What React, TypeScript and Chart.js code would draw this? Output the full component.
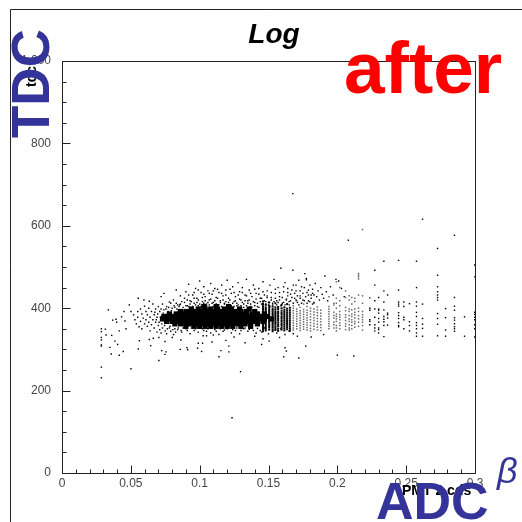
import React, { useEffect, useRef } from "react";
import { Chart, registerables } from "chart.js";

Chart.register(...registerables);

type P = [number, number];

const titleText = "Log";
const xAxisLabel = "PMT 2 cds";
const yAxisLabel = "tdc";
const xTicksMinor = [0.01, 0.02, 0.03, 0.04, 0.06, 0.07, 0.08, 0.09, 0.11, 0.12, 0.13, 0.14, 0.16, 0.17, 0.18, 0.19, 0.21, 0.22, 0.23, 0.24, 0.26, 0.27, 0.28, 0.29];
const yTicksMinor = [50, 100, 150, 250, 300, 350, 450, 500, 550, 650, 700, 750, 850, 900, 950];

const coreRows: [number, number[]][] = [
  [404, [0.103, 0.112, 0.121]],
  [398, [0.094, 0.099, 0.104, 0.108, 0.113, 0.118, 0.123, 0.129, 0.136]],
  [392, [0.086, 0.09, 0.093, 0.096, 0.099, 0.102, 0.105, 0.108, 0.111, 0.114, 0.117, 0.12, 0.123, 0.126, 0.13, 0.134, 0.14]],
  [386, [0.078, 0.083, 0.086, 0.089, 0.092, 0.095, 0.098, 0.101, 0.104, 0.107, 0.11, 0.113, 0.116, 0.119, 0.122, 0.125, 0.128, 0.131, 0.134, 0.138, 0.142, 0.147]],
  [380, [0.074, 0.077, 0.08, 0.083, 0.086, 0.089, 0.092, 0.095, 0.098, 0.101, 0.104, 0.107, 0.11, 0.113, 0.116, 0.119, 0.122, 0.125, 0.128, 0.131, 0.134, 0.137, 0.14, 0.144, 0.149]],
  [374, [0.073, 0.077, 0.08, 0.083, 0.086, 0.089, 0.092, 0.095, 0.098, 0.101, 0.104, 0.107, 0.11, 0.113, 0.116, 0.119, 0.122, 0.125, 0.128, 0.131, 0.134, 0.137, 0.14, 0.143, 0.147, 0.152]],
  [368, [0.076, 0.08, 0.084, 0.087, 0.09, 0.093, 0.096, 0.099, 0.102, 0.105, 0.108, 0.111, 0.114, 0.117, 0.12, 0.123, 0.126, 0.129, 0.132, 0.135, 0.138, 0.141, 0.146]],
  [362, [0.082, 0.086, 0.09, 0.093, 0.096, 0.099, 0.102, 0.105, 0.108, 0.111, 0.114, 0.117, 0.12, 0.123, 0.126, 0.129, 0.133, 0.137, 0.142]],
  [356, [0.09, 0.096, 0.1, 0.104, 0.108, 0.112, 0.116, 0.12, 0.124, 0.13, 0.137]],
];

const leftOutliers: P[] = [
  [0.0286, 350], [0.0286, 343], [0.0286, 329], [0.0286, 323], [0.0286, 311], [0.0286, 308], [0.0286, 257], [0.0286, 231],
  [0.0315, 349], [0.032, 335], [0.0361, 334], [0.0348, 305], [0.0385, 320], [0.0404, 312], [0.0358, 289], [0.0416, 286],
  [0.0445, 295], [0.0501, 253], [0.0416, 345], [0.0465, 350], [0.0368, 371], [0.0392, 373], [0.0397, 366], [0.0433, 379],
  [0.045, 392], [0.0457, 369], [0.0489, 408], [0.0501, 392], [0.0337, 396], [0.0554, 424], [0.0595, 420], [0.0634, 417],
  [0.0562, 321], [0.0554, 301], [0.0644, 309], [0.0634, 324], [0.0663, 327], [0.0704, 329], [0.0724, 297], [0.0755, 294],
  [0.0748, 288], [0.0704, 273], [0.0748, 319], [0.0801, 329], [0.0864, 323], [0.0859, 300], [0.0908, 304], [0.0913, 299],
  [0.099, 315], [0.0985, 303], [0.1026, 333], [0.105, 333], [0.1021, 315], [0.1014, 295], [0.1099, 335], [0.1154, 297],
  [0.114, 282], [0.1212, 308], [0.1212, 294], [0.1297, 246], [0.1235, 134],
];

const leftCloud: P[] = [
  [0.052, 384], [0.053, 372], [0.054, 362], [0.055, 392], [0.055, 378], [0.056, 355], [0.057, 398], [0.057, 368], [0.058, 386], [0.058, 350],
  [0.059, 376], [0.06, 405], [0.06, 362], [0.061, 392], [0.061, 372], [0.062, 384], [0.062, 356], [0.063, 400], [0.063, 366], [0.064, 378],
  [0.064, 345], [0.065, 392], [0.065, 360], [0.066, 410], [0.066, 372], [0.067, 384], [0.067, 352], [0.068, 398], [0.068, 366], [0.069, 378],
  [0.069, 342], [0.07, 404], [0.07, 358], [0.071, 392], [0.071, 348], [0.072, 398], [0.072, 340], [0.073, 410], [0.073, 352], [0.074, 396],
  [0.075, 345], [0.076, 404], [0.076, 338], [0.077, 392], [0.078, 352], [0.079, 412], [0.079, 344], [0.08, 400], [0.081, 336], [0.082, 350],
  [0.0675, 390], [0.0685, 372], [0.0695, 386], [0.0705, 366], [0.0715, 378], [0.0725, 362], [0.0735, 388], [0.0745, 358], [0.0755, 398], [0.0765, 350],
  [0.0775, 402], [0.0785, 356], [0.0795, 394], [0.0805, 348], [0.0815, 406], [0.0825, 342], [0.0835, 398], [0.0845, 352], [0.0855, 408], [0.0865, 346],
];

const upperHalo: P[] = [
  [0.072, 428], [0.074, 436], [0.078, 415], [0.081, 420], [0.083, 444], [0.084, 408], [0.086, 430], [0.087, 416], [0.089, 424], [0.09, 440],
  [0.091, 406], [0.092, 458], [0.093, 418], [0.095, 432], [0.096, 412], [0.097, 448], [0.098, 424], [0.099, 406], [0.1, 466], [0.101, 438],
  [0.102, 416], [0.103, 452], [0.104, 428], [0.105, 410], [0.106, 442], [0.107, 420], [0.108, 460], [0.109, 434], [0.11, 414], [0.111, 448],
  [0.112, 426], [0.113, 408], [0.114, 438], [0.115, 418], [0.116, 456], [0.117, 430], [0.118, 412], [0.119, 444], [0.12, 468], [0.121, 424],
  [0.122, 408], [0.123, 436], [0.124, 452], [0.125, 416], [0.126, 428], [0.127, 406], [0.128, 462], [0.129, 440], [0.13, 420], [0.131, 450],
  [0.132, 410], [0.133, 432], [0.134, 470], [0.135, 418], [0.136, 444], [0.137, 404], [0.138, 428], [0.139, 456], [0.14, 414], [0.141, 436],
  [0.142, 404], [0.143, 448], [0.144, 424], [0.145, 410], [0.146, 464], [0.147, 432], [0.148, 416], [0.149, 442], [0.15, 408], [0.151, 456],
  [0.152, 426], [0.153, 412], [0.154, 470], [0.155, 436], [0.156, 418], [0.157, 450], [0.158, 428], [0.159, 497], [0.16, 412], [0.161, 440],
  [0.162, 462], [0.163, 422], [0.164, 448], [0.165, 416], [0.166, 434], [0.1677, 492], [0.1677, 678], [0.168, 456], [0.169, 424], [0.17, 442],
  [0.171, 414], [0.172, 468], [0.173, 430], [0.174, 452], [0.175, 420], [0.1764, 484], [0.1775, 472], [0.1775, 469], [0.178, 438], [0.179, 418],
  [0.18, 456], [0.181, 432], [0.182, 446], [0.183, 414], [0.184, 460], [0.185, 428], [0.186, 442], [0.187, 420], [0.188, 450], [0.189, 434],
  [0.19, 424], [0.191, 478], [0.192, 440], [0.193, 418], [0.195, 452], [0.197, 432], [0.199, 470], [0.201, 466], [0.203, 448], [0.205, 428],
];

const upperDense: P[] = [
  [0.082, 402], [0.083, 412], [0.085, 404], [0.086, 410], [0.088, 402], [0.089, 414], [0.09, 406], [0.091, 420], [0.092, 404], [0.093, 410],
  [0.094, 416], [0.095, 404], [0.096, 424], [0.097, 408], [0.098, 414], [0.099, 420], [0.1, 410], [0.101, 404], [0.102, 426], [0.103, 412],
  [0.104, 418], [0.105, 406], [0.106, 414], [0.107, 408], [0.108, 422], [0.109, 412], [0.11, 404], [0.111, 418], [0.112, 410], [0.113, 424],
  [0.114, 408], [0.115, 414], [0.116, 404], [0.117, 420], [0.118, 410], [0.119, 416], [0.12, 408], [0.121, 414], [0.122, 420], [0.123, 406],
  [0.124, 412], [0.125, 404], [0.126, 418], [0.127, 412], [0.128, 408], [0.129, 422], [0.13, 406], [0.131, 414], [0.132, 402], [0.133, 418],
  [0.134, 406], [0.135, 412], [0.136, 420], [0.137, 410], [0.138, 402], [0.139, 416], [0.14, 406], [0.141, 422], [0.142, 412], [0.143, 402],
  [0.144, 416], [0.145, 424], [0.146, 406], [0.147, 418], [0.148, 410], [0.149, 426], [0.15, 414], [0.151, 404], [0.152, 420], [0.153, 408],
  [0.154, 416], [0.155, 424], [0.156, 408], [0.157, 414], [0.158, 420], [0.159, 406], [0.16, 426], [0.161, 414], [0.162, 408], [0.163, 420],
  [0.164, 430], [0.165, 408], [0.166, 418], [0.167, 426], [0.168, 412], [0.169, 436], [0.17, 420], [0.171, 430], [0.172, 408], [0.173, 424],
  [0.174, 412], [0.175, 436], [0.176, 418], [0.177, 428], [0.178, 412], [0.179, 432], [0.18, 416], [0.181, 424], [0.182, 410], [0.183, 432],
  [0.092, 432], [0.096, 438], [0.099, 444], [0.103, 434], [0.107, 436], [0.11, 442], [0.113, 446], [0.116, 436], [0.119, 432], [0.122, 446],
  [0.125, 438], [0.128, 432], [0.131, 438], [0.134, 430], [0.137, 436], [0.14, 446], [0.143, 434], [0.146, 440], [0.149, 430], [0.152, 438],
  [0.155, 446], [0.158, 438], [0.161, 452], [0.164, 438], [0.167, 444], [0.17, 456], [0.173, 442], [0.176, 450], [0.179, 444], [0.182, 436],
];

const lowerHalo: P[] = [
  [0.084, 348], [0.087, 342], [0.09, 350], [0.093, 338], [0.096, 346], [0.099, 342], [0.102, 350], [0.105, 344], [0.108, 340], [0.111, 348],
  [0.114, 336], [0.117, 344], [0.12, 350], [0.123, 340], [0.126, 346], [0.129, 338], [0.132, 350], [0.135, 344], [0.138, 352], [0.141, 340],
  [0.144, 346], [0.147, 352], [0.15, 338], [0.153, 346], [0.156, 340], [0.159, 350], [0.162, 336], [0.165, 344], [0.168, 338], [0.171, 332],
  [0.161, 282], [0.162, 304], [0.163, 296], [0.177, 308], [0.172, 279], [0.2, 286], [0.212, 284], [0.1505, 320], [0.146, 326], [0.133, 316],
  [0.119, 322], [0.109, 318], [0.14, 332], [0.125, 330], [0.181, 330], [0.19, 336], [0.158, 329], [0.145, 312],
  [0.088, 352], [0.091, 346], [0.094, 352], [0.097, 350], [0.1, 352], [0.103, 346], [0.106, 350], [0.109, 353], [0.112, 344], [0.115, 350],
  [0.118, 347], [0.121, 353], [0.124, 348], [0.127, 352], [0.13, 346], [0.133, 352], [0.136, 349], [0.139, 346], [0.142, 351], [0.145, 342],
];

const darkStripeColumns: [number, number[]][] = [
  [0.146, [344, 348, 352, 356, 360, 364, 368, 372, 376, 380, 384, 388, 392, 396, 400, 404, 410, 416]],
  [0.148, [346, 350, 354, 358, 362, 366, 370, 374, 378, 382, 386, 390, 394, 398, 402, 408]],
  [0.1505, [348, 353, 357, 361, 365, 369, 373, 377, 381, 385, 389, 393, 397, 401, 406, 414]],
  [0.153, [344, 349, 354, 358, 362, 366, 370, 374, 378, 382, 386, 390, 394, 398, 404]],
  [0.155, [347, 351, 355, 360, 364, 368, 372, 376, 380, 384, 388, 392, 397, 402, 412]],
  [0.157, [345, 350, 356, 360, 365, 370, 374, 379, 383, 388, 392, 398, 403]],
  [0.1595, [348, 353, 358, 362, 367, 371, 376, 380, 385, 389, 394, 400, 408]],
  [0.1615, [346, 351, 356, 361, 366, 371, 376, 381, 386, 391, 396, 402]],
  [0.1635, [349, 354, 359, 364, 369, 374, 379, 384, 389, 394, 399, 410]],
  [0.1655, [345, 350, 355, 360, 365, 370, 375, 380, 385, 390, 395, 401]],
];

const grayStripeColumns: [number, number[]][] = [
  [0.168, [347, 352, 358, 364, 370, 376, 382, 388, 394, 400, 406]],
  [0.1705, [350, 356, 362, 368, 374, 380, 386, 392, 398, 418]],
  [0.173, [346, 352, 358, 364, 370, 376, 382, 388, 394, 402]],
  [0.1755, [349, 355, 361, 367, 373, 379, 385, 391, 397, 410]],
  [0.178, [347, 353, 359, 365, 371, 377, 383, 389, 395, 404]],
  [0.1805, [345, 351, 358, 365, 372, 379, 386, 393, 400]],
  [0.183, [349, 356, 363, 370, 377, 384, 391, 398, 412]],
  [0.1855, [347, 354, 361, 368, 375, 382, 389, 396, 403]],
  [0.188, [346, 353, 360, 367, 374, 381, 388, 395]],
  [0.1939, [350, 356, 362, 368, 374, 380, 386, 392, 398, 404, 428]],
  [0.1975, [352, 360, 366, 376, 382, 390, 408, 412]],
  [0.1993, [345, 352, 358, 368, 374, 380, 386, 400, 412, 424, 464]],
  [0.2018, [350, 358, 364, 372, 378, 384, 392, 406, 418, 450]],
  [0.206, [348, 356, 362, 370, 378, 384, 394, 402, 426, 442]],
  [0.2086, [347, 352, 360, 368, 374, 382, 392, 398, 420, 430]],
  [0.2105, [350, 358, 366, 372, 380, 386, 396, 410, 426]],
  [0.2127, [354, 362, 368, 376, 384, 390, 398, 416, 424]],
  [0.2154, [356, 366, 374, 382, 392, 400, 432, 471, 476, 480, 484]],
  [0.2183, [347, 358, 366, 372, 378, 384, 392, 412, 430, 591]],
];

const rightColumns: [number, number[]][] = [
  [0.208, [565]],
  [0.2236, [360, 368, 372, 395, 400, 425]],
  [0.2272, [345, 352, 360, 378, 398, 418, 456, 492]],
  [0.23, [340, 348, 352, 366, 375, 388, 395, 398, 426]],
  [0.2338, [331, 358, 367, 373, 380, 396, 415, 442, 514]],
  [0.2365, [359, 376, 384, 388, 432]],
  [0.2445, [355, 358, 365, 375, 382, 389, 405, 410, 415, 444, 516]],
  [0.2483, [350, 372, 378, 404, 415]],
  [0.2524, [345, 358, 367, 411]],
  [0.2575, [332, 340, 350, 358, 365, 380, 390, 405, 415, 450, 514]],
  [0.2619, [332, 351, 361, 375, 410, 616]],
  [0.2728, [333, 361, 375, 387, 420, 426, 432, 440, 452, 480, 545]],
  [0.2786, [332, 347, 377, 399]],
  [0.2851, [344, 350, 355, 362, 371, 377, 395, 405, 426, 577]],
  [0.2924, [332, 379]],
  [0.2998, [330, 350, 360, 372, 378, 385, 390, 476, 505]],
];

const corePoints = coreRows.flatMap(([y, xs]) => xs.map((x) => ({ x, y })));
const columnPoints = (cols: [number, number[]][]) => cols.flatMap(([x, ys]) => ys.map((y) => ({ x, y })));
const tuplePoints = (list: P[]) => list.map(([x, y]) => ({ x, y }));

const overlay = {
  id: "overlay",
  afterDraw(chart: any) {
    const { ctx } = chart;
    const xs = chart.scales.x;
    const ys = chart.scales.y;
    const area = chart.chartArea;
    ctx.save();
    ctx.strokeStyle = "#222";
    ctx.lineWidth = 1;
    ctx.beginPath();
    ctx.moveTo(10.5, 522);
    ctx.lineTo(10.5, 9.5);
    ctx.lineTo(522, 9.5);
    ctx.stroke();
    ctx.beginPath();
    const mark = (sx: number, sy: number, ex: number, ey: number) => {
      ctx.moveTo(Math.round(sx) + 0.5, Math.round(sy) + 0.5);
      ctx.lineTo(Math.round(ex) + 0.5, Math.round(ey) + 0.5);
    };
    xs.ticks.forEach((t: any) => {
      const p = xs.getPixelForValue(t.value);
      mark(p, area.bottom, p, area.bottom - 8);
    });
    xTicksMinor.forEach((v) => {
      const p = xs.getPixelForValue(v);
      mark(p, area.bottom, p, area.bottom - 4);
    });
    ys.ticks.forEach((t: any) => {
      const p = ys.getPixelForValue(t.value);
      mark(area.left, p, area.left + 8, p);
    });
    yTicksMinor.forEach((v) => {
      const p = ys.getPixelForValue(v);
      mark(area.left, p, area.left + 4, p);
    });
    ctx.stroke();
    ctx.textBaseline = "alphabetic";
    ctx.textAlign = "left";

    ctx.fillStyle = "#000";
    ctx.font = "bold 14px 'Liberation Sans'";
    ctx.fillText(xAxisLabel, 402, 495);
    ctx.save();
    ctx.translate(36, 87);
    ctx.rotate(-Math.PI / 2);
    ctx.fillText(yAxisLabel, 0, 0);
    ctx.restore();

    ctx.fillStyle = "#ff0000";
    ctx.font = "bold 73px 'Liberation Sans'";
    ctx.fillText("after", 344, 93);

    ctx.fillStyle = "#333399";
    ctx.font = "bold 53px 'Liberation Sans'";
    ctx.save();
    ctx.translate(49, 138);
    ctx.rotate(-Math.PI / 2);
    ctx.fillText("TDC", 0, 0);
    ctx.restore();
    ctx.font = "bold 52px 'Liberation Sans'";
    ctx.fillText("ADC", 376, 519);
    ctx.font = "italic 36px 'Liberation Sans'";
    ctx.fillText("β", 497, 483);
    ctx.restore();
  },
};

export default function App() {
  const ref = useRef<HTMLCanvasElement>(null);
  useEffect(() => {
    document.body.style.margin = "0";
    const small = { pointStyle: "rect", pointRadius: 1.0, pointBorderWidth: 0, pointBackgroundColor: "#000", showLine: false };
    const chart = new Chart(ref.current!, {
      type: "scatter",
      data: {
        datasets: [
          { label: "core", data: corePoints, pointStyle: "rect", pointRadius: 3.7, pointBorderWidth: 0, pointBackgroundColor: "#000", showLine: false },
          { label: "left outliers", data: tuplePoints(leftOutliers), ...small },
          { label: "left cloud", data: tuplePoints(leftCloud), ...small },
          { label: "upper", data: tuplePoints(upperHalo), ...small },
          { label: "upper dense", data: tuplePoints(upperDense), ...small },
          { label: "lower", data: tuplePoints(lowerHalo), ...small },
          { label: "dark stripes", data: columnPoints(darkStripeColumns), ...small, pointRadius: 1.4 },
          { label: "gray stripes", data: columnPoints(grayStripeColumns), ...small, pointRadius: 1.05, pointBackgroundColor: "#666" },
          { label: "right", data: columnPoints(rightColumns), ...small },
        ],
      } as any,
      options: {
        responsive: false,
        animation: false,
        layout: { padding: { top: 61, right: 47, left: 0, bottom: 0 } },
        plugins: {
          legend: { display: false },
          tooltip: { enabled: false },
          title: { display: false },
          subtitle: { display: false },
        },
        scales: {
          x: {
            type: "linear",
            min: 0,
            max: 0.3,
            border: { color: "#222", width: 1 },
            grid: { display: false, drawTicks: false },
            ticks: {
              stepSize: 0.05,
              padding: 3,
              maxRotation: 0,
              color: "#444",
              font: { family: "'Liberation Sans'", size: 12 },
              callback: (v: any) => String(+Number(v).toFixed(2)),
            },
            afterFit: (s: any) => { s.height = 49; },
          },
          y: {
            type: "linear",
            min: 0,
            max: 1000,
            border: { color: "#222", width: 1 },
            grid: { display: false, drawTicks: false },
            ticks: {
              stepSize: 200,
              padding: 11,
              color: "#444",
              font: { family: "'Liberation Sans'", size: 12 },
            },
            afterFit: (s: any) => { s.width = 62; },
          },
        },
      },
      plugins: [
        {
          id: "frameAndTitle",
          afterDatasetsDraw(chart: any) {
            const { ctx, chartArea: a } = chart;
            ctx.save();
            ctx.strokeStyle = "#222";
            ctx.lineWidth = 1;
            ctx.strokeRect(a.left + 0.5, a.top + 0.5, a.right - a.left, a.bottom - a.top);
            ctx.fillStyle = "#000";
            ctx.font = "italic bold 28px 'Liberation Sans'";
            ctx.textAlign = "center";
            ctx.fillText(titleText, 274, 43);
            ctx.restore();
          },
        },
        overlay,
      ],
    });
    return () => chart.destroy();
  }, []);
  return (
    <div style={{ position: "absolute", left: 0, top: 0, width: 522, height: 522 }}>
      <canvas ref={ref} width={522} height={522} style={{ display: "block" }} />
    </div>
  );
}
